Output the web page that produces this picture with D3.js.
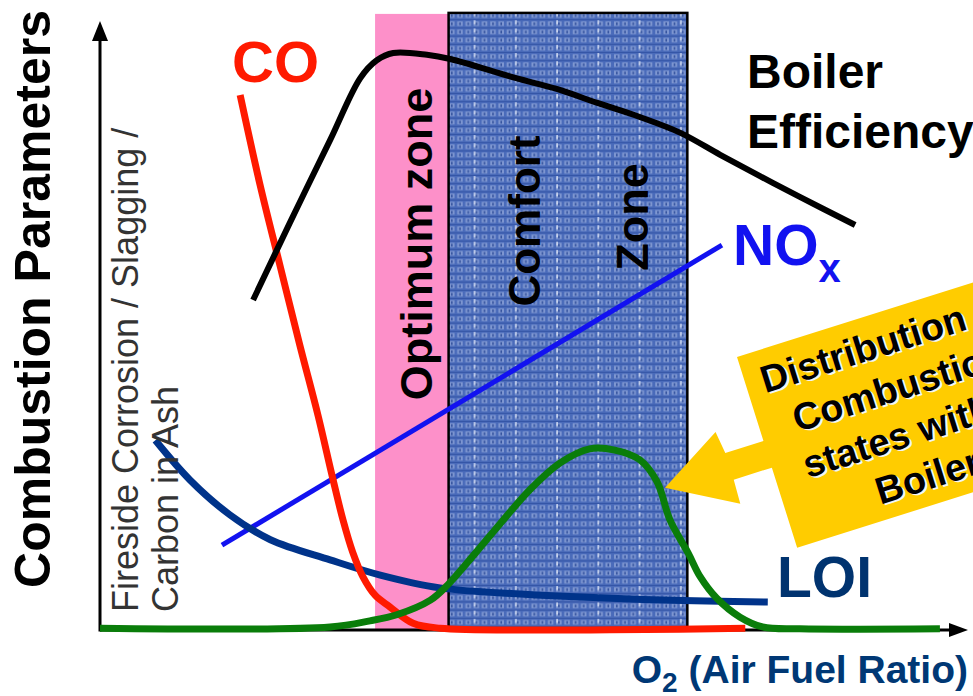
<!DOCTYPE html>
<html><head><meta charset="utf-8">
<script src="https://cdn.jsdelivr.net/npm/d3@7"></script>
<style>
html,body{margin:0;padding:0;background:#fff;}
svg{display:block;font-family:"Liberation Sans",Arial,sans-serif;}
</style></head>
<body>
<svg id="chart" width="973" height="696"></svg>
<script>
// ---------- data (x: O2 / air-fuel ratio, y: relative level, both 0-100) ----------
const efficiency = [[17.7,54.1],[22.0,66.9],[26.6,80.3],[30.1,90.5],[32.0,93.4],[33.9,94.6],[37.8,94.3],[40.5,93.6],[48.0,90.5],[52.8,88.7],[57.5,86.4],[62.4,84.1],[67.1,81.5],[71.7,77.9],[76.3,74.4],[80.9,71.0],[87.3,66.4]];
const co = [[16.2,87.7],[18.5,73.0],[20.8,59.8],[23.1,46.7],[25.2,35.2],[26.9,24.9],[28.1,18.0],[29.2,12.8],[30.4,8.7],[31.8,5.7],[33.5,3.8],[36.2,1.1],[39.3,0.3],[74.6,0.3]];
const nox = [[14.1,13.9],[71.9,63.1]];
const loi = [[6.4,31.1],[10.4,24.6],[15.0,18.9],[19.7,14.8],[26.6,11.5],[32.4,9.0],[39.3,6.9],[48.6,5.9],[65.1,4.9],[77.2,4.6]];
const distribution = [[0,0.3],[26.6,0.5],[31.2,1.5],[34.3,2.5],[38.2,4.9],[40.2,7.4],[43.4,12.6],[46.6,18.0],[49.7,23.0],[53.2,27.4],[56.6,29.7],[59.5,29.5],[62.4,27.9],[64.4,24.3],[65.9,18.0],[68.0,12.6],[69.4,8.7],[71.3,5.2],[74.0,2.1],[76.6,0.5],[80.9,0.2],[97.1,0.2]];
const zoneBounds = [31.8, 40.3, 67.9];   // optimum zone: [0]-[1], comfort zone: [1]-[2]
const zoneTop = 101;
const calloutLines = ["Distribution of", "Combustion", "states within", "Boiler"];

// ---------- setup ----------
const svg = d3.select("#chart");
const FONT = '"Liberation Sans", Arial, sans-serif';
const x = d3.scaleLinear().domain([0,100]).range([100,965]);
const y = d3.scaleLinear().domain([0,100]).range([630,20]);

// pattern for comfort zone
const defs = svg.append("defs");
const pat = defs.append("pattern").attr("id","brick").attr("patternUnits","userSpaceOnUse")
  .attr("x", 448).attr("y", 12).attr("width", 41.25).attr("height", 8.2);
pat.append("rect").attr("width",41.25).attr("height",8.2).attr("fill","#4a6bba");
for (let i=0;i<5;i++){
  pat.append("rect").attr("x",1+i*8.2).attr("y",1.2).attr("width",5.5).attr("height",4.6).attr("fill","#8ca2d7").attr("opacity",0.8);
  pat.append("rect").attr("x",3+i*8.2).attr("y",2.2).attr("width",1.6).attr("height",2.8).attr("fill","#34539f");
}
pat.append("rect").attr("x",0).attr("y",7.2).attr("width",41.25).attr("height",1).attr("fill","#2c4d9f").attr("opacity",0.75);
pat.append("rect").attr("x",26).attr("y",0).attr("width",1.2).attr("height",4).attr("fill","#e8eefa");

// ---------- zones ----------
svg.append("rect").attr("x", x(zoneBounds[0])).attr("y", y(zoneTop))
  .attr("width", x(zoneBounds[1])-x(zoneBounds[0])).attr("height", y(0)-y(zoneTop))
  .attr("fill","#fd90c9");
svg.append("rect").attr("x", x(zoneBounds[1])).attr("y", y(zoneTop)-1)
  .attr("width", x(zoneBounds[2])-x(zoneBounds[1])).attr("height", y(0)-y(zoneTop)+1)
  .attr("fill","url(#brick)").attr("stroke","#000").attr("stroke-width",2.5);

// zone labels (rotated)
function vtext(cx, cy, txt, size){
  svg.append("text").attr("transform",`translate(${cx},${cy}) rotate(-90)`)
    .attr("text-anchor","middle").attr("font-family",FONT).attr("font-weight","bold")
    .attr("font-size",size).attr("fill","#000").text(txt);
}
vtext(432, 244, "Optimum zone", 45);
vtext(540, 221, "Comfort", 44);
vtext(648, 217, "Zone", 45);

// ---------- axes ----------
svg.append("line").attr("x1",x(0)).attr("x2",x(0)).attr("y1",y(0)+1.5).attr("y2",36).attr("stroke","#000").attr("stroke-width",3);
svg.append("path").attr("d",`M${x(0)},21 L${x(0)-8},41 L${x(0)+8},41 Z`).attr("fill","#000");
svg.append("line").attr("x1",x(0)).attr("x2",952).attr("y1",y(0)).attr("y2",y(0)).attr("stroke","#000").attr("stroke-width",3);
svg.append("path").attr("d",`M968,${y(0)} L949,${y(0)-7} L949,${y(0)+7} Z`).attr("fill","#000");

// ---------- curves ----------
const line = d3.line().x(d=>x(d[0])).y(d=>y(d[1])).curve(d3.curveCatmullRom.alpha(0.5));
svg.append("path").datum(nox).attr("d",line).attr("fill","none").attr("stroke","#1212f0").attr("stroke-width",5);
svg.append("path").datum(loi).attr("d",line).attr("fill","none").attr("stroke","#00338a").attr("stroke-width",7);
svg.append("path").datum(co).attr("d",line).attr("fill","none").attr("stroke","#ff1a00").attr("stroke-width",7);
svg.append("path").datum(distribution).attr("d",line).attr("fill","none").attr("stroke","#0a7d0a").attr("stroke-width",7);
svg.append("path").datum(efficiency).attr("d",line).attr("fill","none").attr("stroke","#000").attr("stroke-width",6);

// ---------- callout ----------
const cg = svg.append("g").attr("transform","translate(737,357) rotate(-17.5)");
cg.append("path").attr("d","M0,0 L420,0 L420,200 L0,200 L0,116 L-40,116 L-41,141 L-108,103 L-43,65 L-40,88 L0,88 Z")
  .attr("fill","#ffcc00");
calloutLines.forEach((t,i)=>{
  [["#f4f4f4",2,2],["#000",0,0]].forEach(([c,dx,dy])=>{
    cg.append("text").attr("x",146+dx).attr("y",43+i*47+dy).attr("text-anchor","middle")
      .attr("font-family",FONT).attr("font-weight","bold").attr("font-size",38).attr("fill",c).text(t);
  });
});

// ---------- series labels ----------
function label(tx, ty, txt, size, color){
  return svg.append("text").attr("x",tx).attr("y",ty).attr("font-family",FONT).attr("font-weight","bold")
    .attr("font-size",size).attr("fill",color).text(txt);
}
label(232, 82, "CO", 58, "#ff1a00");
label(747, 88, "Boiler", 48, "#000");
label(747, 148, "Efficiency", 48, "#000");
const nt = label(733, 265, "NO", 57, "#1212f0");
nt.append("tspan").attr("font-size",40).attr("dy",17).text("x");
label(777, 597, "LOI", 57, "#00336f");

// axis titles
svg.append("text").attr("transform","translate(50,299) rotate(-90)").attr("text-anchor","middle")
  .attr("font-family",FONT).attr("font-weight","bold").attr("font-size",50).attr("fill","#000")
  .text("Combustion Parameters");
svg.append("text").attr("transform","translate(138,612) rotate(-90)")
  .attr("font-family",FONT).attr("font-size",36).attr("fill","#333").text("Fireside Corrosion / Slagging /");
svg.append("text").attr("transform","translate(178,612) rotate(-90)")
  .attr("font-family",FONT).attr("font-size",36).attr("fill","#333").text("Carbon in Ash");

const xt = svg.append("text").attr("x",968).attr("y",683).attr("text-anchor","end")
  .attr("font-family",FONT).attr("font-weight","bold").attr("font-size",39).attr("fill","#003875");
xt.append("tspan").text("O");
xt.append("tspan").attr("font-size",28).attr("dy",9).text("2");
xt.append("tspan").attr("dy",-9).text(" (Air Fuel Ratio)");
</script>
</body></html>
